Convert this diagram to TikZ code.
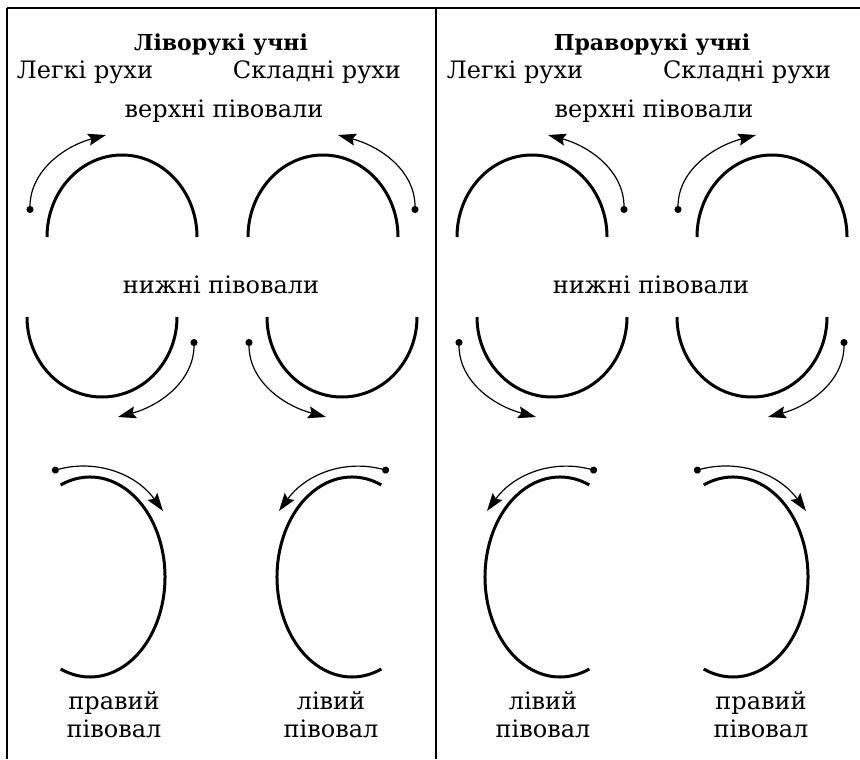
\documentclass[tikz,border=0pt]{standalone}
\usepackage{fontspec}
\setmainfont{DejaVu Serif}
\usetikzlibrary{arrows.meta}

\begin{document}
\begin{tikzpicture}[x=0.5pt,y=0.5pt,
	txt/.style={anchor=base,inner sep=0pt,font=\fontsize{12}{14}\selectfont},
	ttl/.style={txt,font=\fontsize{11}{14}\selectfont\bfseries},
	oval/.style={line width=1.5pt},
	move/.style={line width=0.6pt,{Circle[length=3.5pt]}-{Stealth[length=9pt,width=6pt,inset=1.5pt]}}]
	\useasboundingbox (0,0) rectangle (860,-759);

	% frame
	\draw[line width=1pt] (7,-8) -- (860,-8);
	\draw[line width=1pt] (7,-8) -- (7,-759);
	\draw[line width=1pt] (436,-8) -- (436,-759);

	% left half: left-handed
	\node[ttl] (ltitle) at (221,-51)  {Ліворукі учні};
	\node[txt] (leasy)  at (85,-79)   {Легкі рухи};
	\node[txt] (lhard)  at (317,-79)  {Складні рухи};
	\node[txt] (lup)    at (224,-118) {верхні півовали};
	\node[txt] (llow)   at (221,-293) {нижні півовали};
	\node[txt,align=center] (lrgt) at (114,-737) {правий\\півовал};
	\node[txt,align=center] (llft) at (331,-737) {лівий\\півовал};

	\draw[oval] (47,-237) arc[start angle=180,end angle=0,x radius=37.5pt,y radius=41pt];
	\draw[oval] (248,-237) arc[start angle=180,end angle=0,x radius=37.5pt,y radius=41pt];
	\draw[oval] (27,-317) arc[start angle=180,end angle=360,x radius=37.5pt,y radius=40pt];
	\draw[oval] (267,-317) arc[start angle=180,end angle=360,x radius=37.5pt,y radius=40pt];
	\draw[oval] (90,-577) ++(113:37.5pt and 50pt) arc[start angle=113,end angle=-113,x radius=37.5pt,y radius=50pt];
	\draw[oval] (352,-577) ++(67:37.5pt and 50pt) arc[start angle=67,end angle=293,x radius=37.5pt,y radius=50pt];

	\coordinate (la1) at (30,-213);  \coordinate (lb1) at (106,-135);
	\coordinate (la2) at (415,-213); \coordinate (lb2) at (338,-135);
	\coordinate (la3) at (194,-339); \coordinate (lb3) at (118,-417);
	\coordinate (la4) at (249,-339); \coordinate (lb4) at (326,-417);
	\coordinate (la5) at (52,-471);  \coordinate (lb5) at (163,-511);
	\coordinate (la6) at (389,-471); \coordinate (lb6) at (279,-511);

	\draw[move] (la1) to[out=90,in=195] (lb1);
	\draw[move] (la2) to[out=90,in=-15] (lb2);
	\draw[move] (la3) to[out=-90,in=15] (lb3);
	\draw[move] (la4) to[out=-90,in=165] (lb4);
	\draw[move] (la5) to[out=15,in=126] (lb5);
	\draw[move] (la6) to[out=165,in=54] (lb6);

	% right half: right-handed
	\node[ttl] (rtitle) at (652,-51)  {Праворукі учні};
	\node[txt] (reasy)  at (515,-79)  {Легкі рухи};
	\node[txt] (rhard)  at (747,-79)  {Складні рухи};
	\node[txt] (rup)    at (654,-118) {верхні півовали};
	\node[txt] (rlow)   at (651,-293) {нижні півовали};
	\node[txt,align=center] (rlft) at (543,-737) {лівий\\півовал};
	\node[txt,align=center] (rrgt) at (761,-737) {правий\\півовал};

	\draw[oval] (457,-237) arc[start angle=180,end angle=0,x radius=37.5pt,y radius=41pt];
	\draw[oval] (697,-237) arc[start angle=180,end angle=0,x radius=37.5pt,y radius=41pt];
	\draw[oval] (477,-317) arc[start angle=180,end angle=360,x radius=37.5pt,y radius=40pt];
	\draw[oval] (677,-317) arc[start angle=180,end angle=360,x radius=37.5pt,y radius=40pt];
	\draw[oval] (560,-577) ++(67:37.5pt and 50pt) arc[start angle=67,end angle=293,x radius=37.5pt,y radius=50pt];
	\draw[oval] (733,-577) ++(113:37.5pt and 50pt) arc[start angle=113,end angle=-113,x radius=37.5pt,y radius=50pt];

	\coordinate (ra1) at (624,-213); \coordinate (rb1) at (548,-135);
	\coordinate (ra2) at (678,-213); \coordinate (rb2) at (756,-135);
	\coordinate (ra3) at (459,-339); \coordinate (rb3) at (536,-417);
	\coordinate (ra4) at (844,-339); \coordinate (rb4) at (768,-417);
	\coordinate (ra5) at (597,-471); \coordinate (rb5) at (487,-511);
	\coordinate (ra6) at (694,-471); \coordinate (rb6) at (806,-511);

	\draw[move] (ra1) to[out=90,in=-15] (rb1);
	\draw[move] (ra2) to[out=90,in=195] (rb2);
	\draw[move] (ra3) to[out=-90,in=165] (rb3);
	\draw[move] (ra4) to[out=-90,in=15] (rb4);
	\draw[move] (ra5) to[out=165,in=54] (rb5);
	\draw[move] (ra6) to[out=15,in=126] (rb6);
\end{tikzpicture}
\end{document}
